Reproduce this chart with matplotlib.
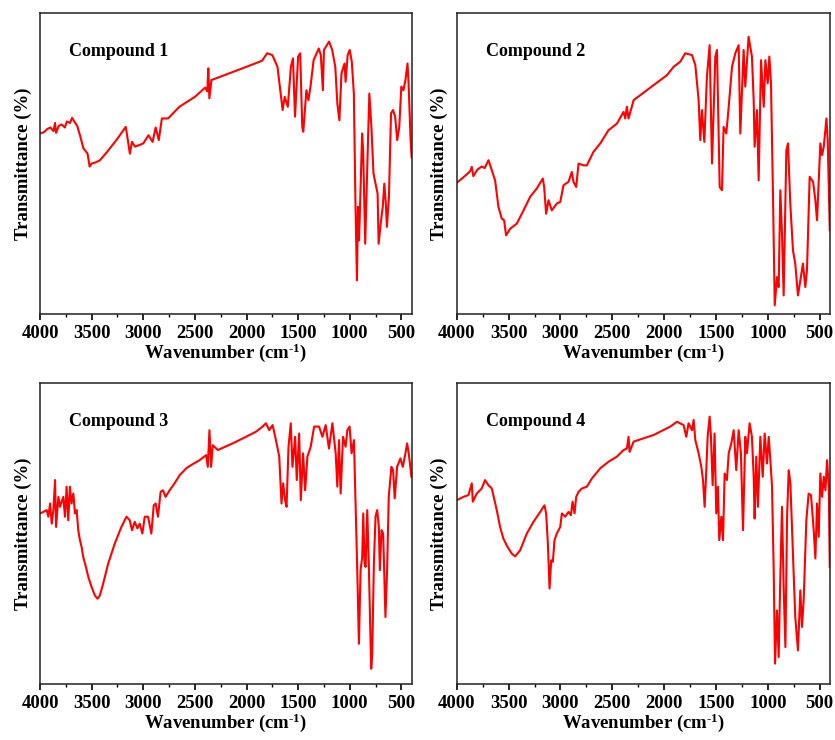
import matplotlib
matplotlib.use("Agg")
import matplotlib.pyplot as plt
from matplotlib.ticker import MultipleLocator

plt.rcParams['font.family'] = ['Liberation Serif', 'DejaVu Serif']
plt.rcParams['font.weight'] = 'bold'
plt.rcParams['mathtext.fontset'] = 'custom'
plt.rcParams['mathtext.rm'] = 'Liberation Serif:bold'
plt.rcParams['mathtext.bf'] = 'Liberation Serif:bold'
plt.rcParams['mathtext.default'] = 'rm'

# Espectros FTIR (número de onda en cm-1, transmitancia relativa en %)
wn_1 = [4000, 3960, 3930, 3900, 3870, 3855, 3845, 3820, 3790, 3760, 3740, 3710, 3690, 3665, 3640,
        3610, 3580, 3560, 3540, 3520, 3500, 3460, 3420, 3350, 3250, 3170, 3150, 3130, 3110, 3080,
        3000, 2950, 2910, 2880, 2850, 2820, 2760, 2650, 2500, 2400, 2380, 2370, 2360, 2340, 2300,
        2000, 1850, 1800, 1750, 1700, 1650, 1630, 1600, 1570, 1550, 1530, 1500, 1480, 1460, 1450,
        1420, 1400, 1380, 1350, 1300, 1280, 1260, 1250, 1200, 1170, 1140, 1120, 1100, 1080, 1050,
        1040, 1020, 1000, 980, 960, 945, 930, 920, 910, 900, 880, 870, 850, 830, 810,
        790, 770, 750, 730, 720, 700, 680, 665, 650, 640, 620, 600, 580, 560, 540,
        520, 500, 480, 460, 440, 430, 410, 400]
t_1 = [60, 60.5, 61.5, 62, 60.8, 63.5, 60.2, 62.5, 63, 62, 64, 63.5, 65.2, 63.8, 62.5,
       59, 55, 54.2, 53.3, 49, 50, 50.4, 51.1, 53.9, 58.3, 62.2, 57.8, 53.3, 57.2, 55.6,
       56.7, 59.4, 57.2, 62, 57.8, 65, 65, 68.9, 72.2, 75.3, 74, 81.7, 71.7, 77.8, 78.3,
       82.2, 84.2, 86.7, 86.1, 82.2, 67.8, 72.2, 68.9, 82.2, 85, 65.6, 85.6, 86.7, 62.2, 60.6,
       74.4, 71.1, 75.6, 84.4, 88.3, 86.1, 74.4, 87.8, 90.6, 87.8, 82.2, 70, 64.4, 80, 83.3,
       77.2, 86.1, 87.8, 83.9, 73.3, 37.8, 11.1, 35.6, 24.4, 35.6, 60, 54.4, 23.3, 48.9, 73.3,
       62.2, 46.7, 43.3, 40, 23.3, 30, 35.6, 43.3, 36.7, 28.9, 38.9, 66.7, 67.8, 65.6, 57.8,
       62.2, 75.6, 74.4, 77.8, 83.3, 76.7, 57.8, 52]

wn_2 = [4000, 3950, 3900, 3870, 3855, 3840, 3800, 3760, 3730, 3710, 3694, 3662, 3630, 3598, 3566,
        3543, 3524, 3485, 3421, 3356, 3292, 3228, 3170, 3157, 3138, 3115, 3083, 3035, 3002, 2970,
        2922, 2890, 2874, 2848, 2825, 2777, 2745, 2681, 2616, 2536, 2455, 2391, 2375, 2359, 2343,
        2294, 2101, 1973, 1908, 1844, 1796, 1731, 1699, 1667, 1651, 1635, 1612, 1587, 1561, 1538,
        1506, 1490, 1464, 1442, 1426, 1400, 1377, 1345, 1313, 1281, 1265, 1233, 1217, 1185, 1153,
        1136, 1127, 1104, 1088, 1065, 1039, 1023, 1001, 985, 969, 949, 933, 911, 895, 879,
        863, 847, 821, 805, 783, 757, 735, 709, 686, 661, 638, 622, 596, 563, 541,
        525, 493, 476, 460, 434, 422, 402]
t_2 = [43.6, 45, 46.5, 47.5, 48.9, 45.8, 48, 49, 48.5, 50, 51.1, 47.8, 44.4, 35.6, 31.7,
       31.1, 26.1, 28.3, 30, 34.4, 38.9, 41.7, 45, 42.2, 33.3, 37.8, 34.4, 36.7, 37.2, 42.8,
       43.9, 47.2, 43.9, 42.2, 50, 49.4, 49.4, 53.9, 56.7, 61.1, 63.3, 67.2, 65, 68.9, 65,
       71.1, 76.1, 79.4, 82.2, 83.9, 86.7, 86.1, 82.8, 71.1, 57.8, 67.8, 57.2, 78.9, 89.4, 50,
       85.6, 87.8, 42.2, 41.1, 62.2, 60, 68.9, 82.2, 86.7, 89.4, 60, 87.8, 75.6, 92.2, 85.6,
       71.1, 55.6, 67.8, 44.4, 84.4, 68.9, 84.4, 76.7, 85.6, 76.7, 37.8, 2.8, 12.2, 8.9, 41.1,
       26.7, 6.1, 54.4, 56.7, 36.7, 21.1, 16.7, 6.1, 11.1, 16.7, 8.9, 14.4, 45.6, 43.9, 37.8,
       31.1, 56.7, 52.8, 55.6, 65, 57.8, 27.8]

wn_3 = [4000, 3968, 3936, 3920, 3903, 3887, 3871, 3855, 3845, 3823, 3807, 3775, 3759, 3743, 3727,
        3711, 3695, 3678, 3662, 3646, 3630, 3614, 3598, 3582, 3556, 3533, 3501, 3469, 3443, 3421,
        3389, 3340, 3276, 3212, 3163, 3131, 3109, 3083, 3057, 3035, 3009, 2986, 2954, 2922, 2899,
        2880, 2858, 2832, 2809, 2784, 2745, 2697, 2648, 2584, 2536, 2455, 2391, 2375, 2359, 2343,
        2327, 2278, 2134, 2005, 1908, 1844, 1812, 1780, 1747, 1715, 1683, 1661, 1645, 1626, 1612,
        1593, 1571, 1555, 1529, 1513, 1490, 1474, 1452, 1432, 1410, 1378, 1345, 1297, 1265, 1233,
        1201, 1168, 1136, 1120, 1104, 1088, 1065, 1040, 1023, 1001, 982, 959, 943, 927, 911,
        895, 879, 869, 856, 846, 830, 814, 792, 782, 766, 750, 734, 718, 708, 692,
        676, 654, 638, 622, 596, 580, 564, 541, 509, 486, 460, 444, 428, 402]
t_3 = [56.7, 57.2, 57.8, 55.6, 60, 53.3, 57.8, 67.8, 52.2, 62.2, 58.9, 62.2, 55.6, 65.6, 54.4,
       65.6, 60, 63.3, 56.7, 57.8, 51.1, 47.8, 45.6, 42.2, 38.9, 35.6, 32.2, 29.4, 28.3, 29.4,
       33.3, 40, 46.7, 52.2, 55.6, 54.4, 51.1, 53.9, 51.7, 53.3, 50, 55.6, 55.6, 50, 59.4,
       60, 55.6, 63.9, 64.4, 62.2, 64.4, 66.7, 69.4, 71.7, 72.8, 74.4, 76.1, 72.2, 84.4, 72.2,
       79.4, 77.8, 80, 82.2, 83.9, 85.6, 86.7, 84.4, 86.1, 81.1, 75.6, 60, 66.7, 61.1, 58.9,
       78.9, 86.7, 72.2, 82.2, 67.8, 83.3, 61.1, 76.7, 64.4, 75.6, 78.9, 85.6, 85.6, 82.2, 86.1,
       78.3, 86.7, 76.7, 65.6, 81.1, 63.3, 82.2, 78.9, 84.4, 85.6, 76.7, 81.1, 60, 37.8, 13.3,
       37.8, 42.2, 56.7, 40, 38.9, 57.8, 37.8, 5, 10, 40, 55.6, 57.8, 52.2, 37.8, 51.1,
       50, 22.2, 37.8, 62.2, 72.2, 71.1, 61.7, 72.2, 75, 72.2, 76.7, 80, 76.7, 68.9]

wn_4 = [4000, 3936, 3887, 3855, 3845, 3807, 3759, 3727, 3695, 3662, 3640, 3614, 3582, 3550, 3511,
        3469, 3437, 3389, 3324, 3260, 3195, 3154, 3138, 3121, 3105, 3089, 3073, 3057, 3035, 3002,
        2986, 2954, 2922, 2899, 2883, 2864, 2848, 2825, 2793, 2745, 2697, 2616, 2536, 2455, 2391,
        2359, 2343, 2333, 2294, 2101, 1940, 1876, 1812, 1786, 1764, 1731, 1715, 1699, 1667, 1641,
        1625, 1609, 1593, 1580, 1561, 1548, 1532, 1513, 1497, 1481, 1468, 1448, 1432, 1416, 1394,
        1377, 1352, 1329, 1304, 1281, 1259, 1239, 1217, 1201, 1175, 1153, 1136, 1127, 1111, 1095,
        1072, 1049, 1030, 1008, 991, 975, 959, 943, 930, 911, 895, 879, 863, 847, 830,
        814, 798, 782, 757, 735, 709, 686, 670, 654, 628, 606, 583, 557, 541, 525,
        509, 493, 476, 460, 444, 428, 412, 402]
t_4 = [61.1, 62.2, 62.8, 66.7, 60.6, 63.3, 65, 67.8, 66.1, 65, 61.7, 57.8, 52.2, 48.3, 45.6,
       43.3, 42.4, 44.4, 50, 53.9, 57.2, 59.4, 56.7, 46.7, 31.7, 41.1, 40.6, 47.8, 50, 52.2,
       56.7, 55.6, 57.2, 56.1, 60.6, 56.7, 62.2, 63.9, 65, 65.6, 68.3, 71.7, 73.9, 75.6, 77.8,
       78.3, 82.2, 77.2, 80.6, 82.8, 85.6, 87.2, 86.1, 82.2, 86.7, 84.4, 87.8, 81.1, 76.7, 72.2,
       67.8, 58.9, 71.1, 82.2, 88.9, 82.2, 66.1, 83.3, 56.7, 65.6, 47.8, 55.6, 47.8, 70, 67.8,
       76.7, 80, 84.4, 71.1, 84.4, 76.7, 51.1, 82.2, 76.7, 86.7, 82.2, 68.9, 55, 75.6, 58.9,
       82.2, 68.9, 83.3, 73.3, 82.2, 74.4, 65.6, 37.8, 6.7, 24.4, 8.9, 35.6, 58.9, 32.2, 12.2,
       55.6, 71.1, 66.7, 43.3, 22.2, 11.1, 31.1, 18.9, 27.8, 54.4, 63.3, 62.8, 51.1, 41.7, 60,
       48.9, 70, 62.2, 68.9, 64.4, 74.4, 65.6, 38.9]

compuestos = ['Compound 1', 'Compound 2', 'Compound 3', 'Compound 4']
espectros = [(wn_1, t_1), (wn_2, t_2), (wn_3, t_3), (wn_4, t_4)]

# Posición de cada panel en la figura [izq, abajo, ancho, alto]
posiciones = [[0.048, 0.576, 0.445, 0.406],
              [0.547, 0.576, 0.447, 0.406],
              [0.048, 0.076, 0.445, 0.406],
              [0.547, 0.076, 0.447, 0.406]]

fig = plt.figure(figsize=(8.35, 7.4), dpi=100)

for nombre, (wn, t), pos in zip(compuestos, espectros, posiciones):
    ax = fig.add_axes(pos)
    ax.plot(wn, t, color='#ff0000', linewidth=1.5)
    ax.set_xlim(4000, 400)
    ax.set_ylim(0, 100)
    ax.xaxis.set_major_locator(MultipleLocator(500))
    ax.xaxis.set_minor_locator(MultipleLocator(250))
    ax.set_yticks([])
    ax.tick_params(axis='x', which='major', direction='out', length=4, width=1.2,
                   labelsize=13.5, pad=4, top=False)
    ax.tick_params(axis='x', which='minor', direction='out', length=2.5, width=1.0, top=False)
    for lado in ax.spines.values():
        lado.set_linewidth(1.1)
        lado.set_color('#222222')
    for etiqueta in ax.get_xticklabels():
        etiqueta.set_fontweight('bold')
    ax.set_xlabel(r'Wavenumber (cm$^{\text{-1}}$)', fontsize=13.5, fontweight='bold', labelpad=0)
    ax.set_ylabel('Transmittance (%)', fontsize=13.5, fontweight='bold', labelpad=6)
    ax.text(0.078, 0.845, nombre, transform=ax.transAxes, fontsize=13,
            fontweight='bold', va='bottom', ha='left')

fig.savefig('out.png', dpi=100)
